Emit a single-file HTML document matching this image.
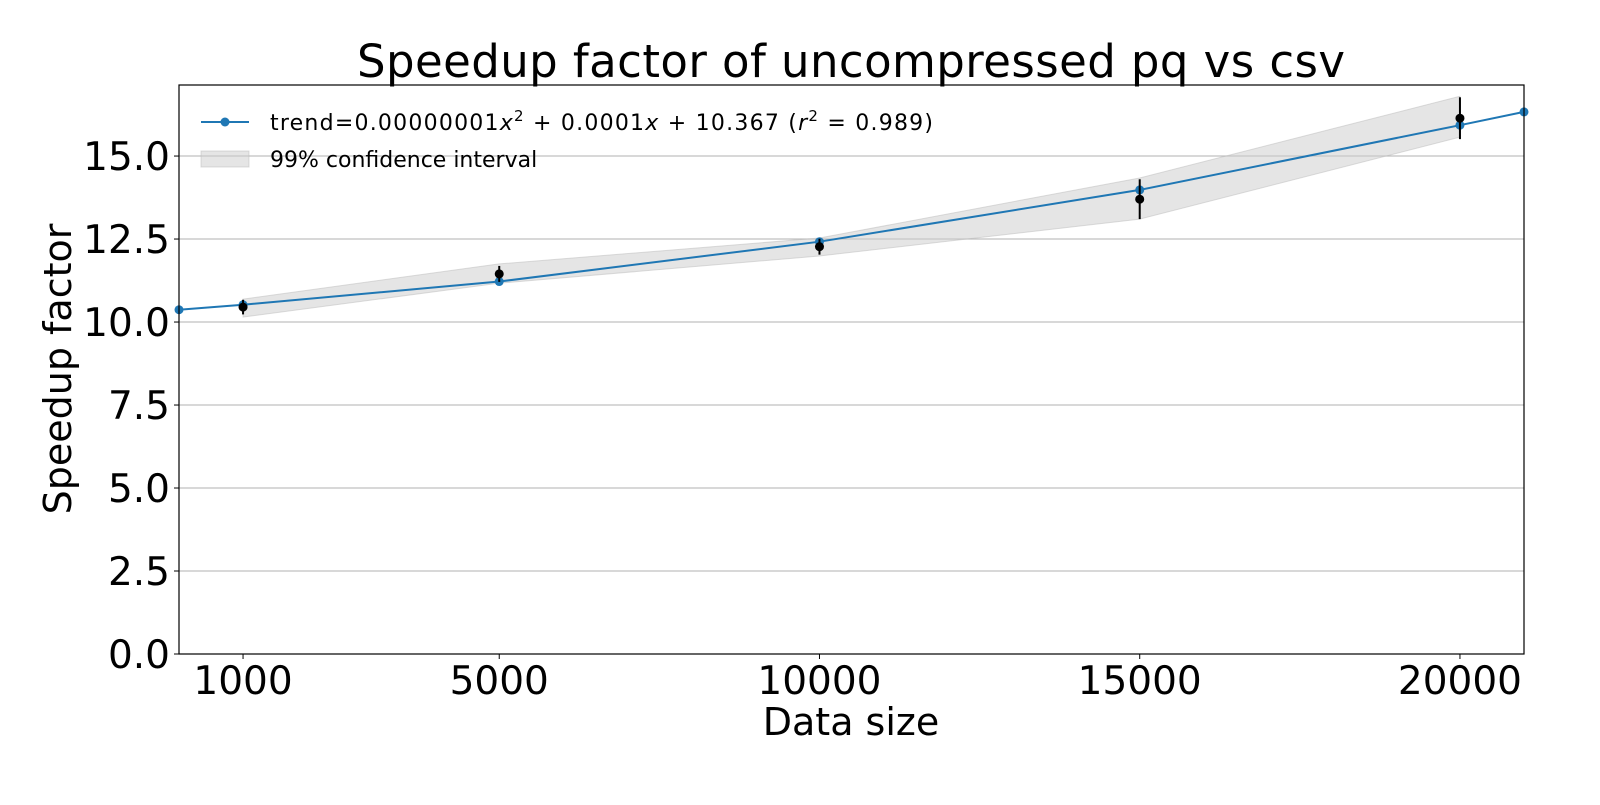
<!DOCTYPE html>
<html><head><meta charset="utf-8"><style>
body{margin:0;background:#fff}
text{font-family:"DejaVu Sans","Liberation Sans",sans-serif}
</style></head><body>
<svg id="chart" width="1600" height="800">
<rect x="0" y="0" width="1600" height="800" fill="#fff"/>
<g id="grid"></g>
<polygon id="band" fill="#cccccc" fill-opacity="0.5" stroke="#bbbbbb" stroke-opacity="0.5"/>
<g id="marks"></g>
<rect x="179" y="85" width="1345" height="569" fill="none" stroke="#000" stroke-width="1.2"/>
<g id="ticks"></g>
<text x="851" y="77" font-size="45" text-anchor="middle" textLength="988">Speedup factor of uncompressed pq vs csv</text>
<text x="851" y="735" font-size="38" text-anchor="middle">Data size</text>
<text transform="translate(71,369) rotate(-90)" font-size="38" text-anchor="middle">Speedup factor</text>
<g>
<g>
<line x1="201" y1="122" x2="249" y2="122" stroke="#1f77b4" stroke-width="2"/>
<circle cx="225" cy="122" r="4.5" fill="#1f77b4"/>
<text x="270" y="130" font-size="22" textLength="663" lengthAdjust="spacing">trend=0.00000001<tspan font-style="italic">x</tspan><tspan font-size="15" dy="-9">2</tspan><tspan dy="9">  +  0.0001</tspan><tspan font-style="italic">x</tspan>  +  10.367 (<tspan font-style="italic">r</tspan><tspan font-size="15" dy="-9">2</tspan><tspan dy="9"> = 0.989)</tspan></text>
</g>
<g>
<rect x="201" y="151" width="48" height="16" fill="#cccccc" fill-opacity="0.5" stroke="#bbbbbb" stroke-opacity="0.5"/>
<text x="270" y="167" font-size="22">99% confidence interval</text>
</g>
</g>
</svg>
<script>
const trendX=[0,1000,5000,10000,15000,20000,21000];
const trendY=[10.37,10.52,11.22,12.42,13.98,15.93,16.33];
const obsX=[1000,5000,10000,15000,20000];
const obsY=[10.45,11.45,12.27,13.7,16.14];
const obsErr=[0.22,0.24,0.24,0.6,0.63];
const ciLow=[10.15,11.17,11.99,13.1,15.57];
const ciHigh=[10.69,11.75,12.53,14.34,16.8];
const yTicks=[0,2.5,5,7.5,10,12.5,15];
const xTicks=[1000,5000,10000,15000,20000];
const L=179,R=1524,T=85,B=654,XMIN=0,XMAX=21000,YMIN=0,YMAX=17.14;
const sx=v=>L+(v-XMIN)/(XMAX-XMIN)*(R-L);
const sy=v=>B-(v-YMIN)/(YMAX-YMIN)*(B-T);
const NS='http://www.w3.org/2000/svg';
function mk(tag,attrs,parent){const e=document.createElementNS(NS,tag);for(const k in attrs)e.setAttribute(k,attrs[k]);parent.appendChild(e);return e;}
const grid=document.getElementById('grid'),ticks=document.getElementById('ticks'),marks=document.getElementById('marks');
yTicks.forEach(t=>{
  const g=mk('line',{x1:L,x2:R,y1:sy(t),y2:sy(t),stroke:'#b0b0b0','stroke-width':1},grid);
  
  
  mk('line',{x1:L-5,x2:L,y1:sy(t),y2:sy(t),stroke:'#000'},ticks);
  const tx=mk('text',{x:L-9,y:sy(t)+14,'font-size':39,'text-anchor':'end'},ticks);
  tx.textContent=t.toFixed(1);
  
  
});
xTicks.forEach(t=>{
  mk('line',{x1:sx(t),x2:sx(t),y1:B,y2:B+5,stroke:'#000'},ticks);
  const tx=mk('text',{x:sx(t),y:B+40,'font-size':39,'text-anchor':'middle'},ticks);
  tx.textContent=t;
  
  
});
const pts=obsX.map((x,i)=>sx(x)+','+sy(ciHigh[i])).concat(obsX.map((x,i)=>sx(x)+','+sy(ciLow[i])).reverse());
document.getElementById('band').setAttribute('points',pts.join(' '));
const pl=mk('polyline',{points:trendX.map((x,i)=>sx(x)+','+sy(trendY[i])).join(' '),fill:'none',stroke:'#1f77b4','stroke-width':2},marks);


trendX.forEach((x,i)=>{
  const c=mk('circle',{cx:sx(x),cy:sy(trendY[i]),r:4.5,fill:'#1f77b4'},marks);
  
  
});
obsX.forEach((x,i)=>{
  const e=mk('line',{x1:sx(x),x2:sx(x),y1:sy(obsY[i]+obsErr[i]),y2:sy(obsY[i]-obsErr[i]),stroke:'#000','stroke-width':2},marks);
  
  
  const c=mk('circle',{cx:sx(x),cy:sy(obsY[i]),r:4.5,fill:'#000'},marks);
  
  
});
</script>
</body></html>
